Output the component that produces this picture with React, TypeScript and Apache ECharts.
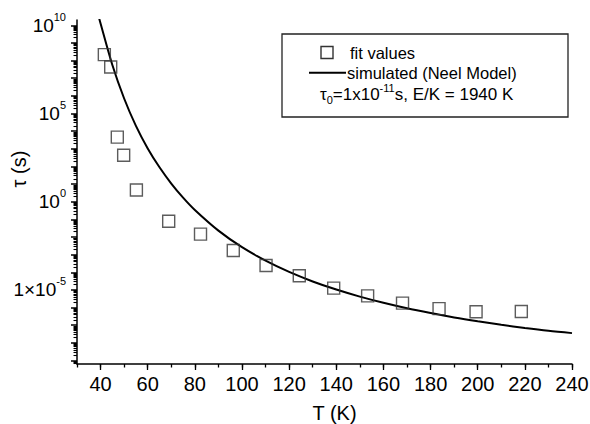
import React, { useEffect, useRef } from "react";
import * as echarts from "echarts";

// Fitted relaxation times (T in K, log10 of tau in s)
const T_FIT = [41.6, 44.3, 47.1, 49.8, 55.2, 68.9, 82.4, 96.3, 110.2, 124.3, 138.9, 153.3, 168.1, 183.6, 199.3, 218.5];
const LOG_TAU_FIT = [8.34, 7.64, 3.66, 2.63, 0.66, -1.11, -1.84, -2.77, -3.62, -4.2, -4.9, -5.34, -5.75, -6.06, -6.24, -6.22];

// Simulated (Neel model) curve
const T_SIM = [39, 40, 45, 50, 55, 60, 65, 70, 75, 80, 90, 100, 110, 120, 130, 140, 150, 160, 170, 180, 190, 200, 210, 220, 230, 240];
const LOG_TAU_SIM = [10.6, 10.1, 7.75, 5.85, 4.3, 3.02, 1.95, 1.03, 0.23, -0.47, -1.64, -2.58, -3.34, -3.98, -4.52, -4.98, -5.38, -5.73, -6.04, -6.31, -6.56, -6.78, -6.98, -7.16, -7.32, -7.45];

// Axis ticks
const X_MIN = 30;
const X_MAX = 240;
const X_MAJOR = [40, 60, 80, 100, 120, 140, 160, 180, 200, 220, 240];
const Y_MIN = -9.2;
const Y_MAX = 10.3;
const Y_DECADES = [-9, -8, -7, -6, -5, -4, -3, -2, -1, 0, 1, 2, 3, 4, 5, 6, 7, 8, 9, 10];
const Y_LABEL_VALUES = [-5, 0, 5, 10];
const Y_LABEL_BASE = ["1\u00d710", "10", "10", "10"];
const Y_LABEL_EXP = ["-5", "0", "5", "10"];

const FONT = "'Liberation Sans', Arial, Helvetica, sans-serif";

export default function App() {
  const ref = useRef<HTMLDivElement>(null);
  useEffect(() => {
    if (!ref.current) return;
    const chart = echarts.init(ref.current, undefined, { renderer: "svg" });

    const minorY: number[] = [];
    for (let n = -10; n <= 10; n++) {
      for (let k = 2; k <= 9; k++) {
        const v = n + Math.log10(k);
        if (v > Y_MIN && v < Y_MAX) minorY.push(v);
      }
    }

    const fitData = T_FIT.map((t, i) => [t, LOG_TAU_FIT[i]]);
    const simData = T_SIM.map((t, i) => [t, LOG_TAU_SIM[i]]);

    const grid = { left: 77, right: 18, top: 20, bottom: 60, containLabel: false, outerBoundsMode: "none" };

    chart.setOption({
      animation: false,
      backgroundColor: "#fff",
      grid,
      xAxis: [
        {
          type: "value",
          min: X_MIN,
          max: X_MAX,
          interval: 10,
          axisLine: { show: true, onZero: false, lineStyle: { color: "#000", width: 1.5 } },
          axisTick: { show: true, inside: false, length: 3.5, lineStyle: { color: "#000", width: 1.3 } },
          splitLine: { show: false },
          axisLabel: {
            color: "#000",
            fontSize: 20,
            fontFamily: FONT,
            margin: 10,
            formatter: (v: number) => (X_MAJOR.indexOf(v) >= 0 ? String(v) : ""),
          },
        },
        {
          type: "value",
          min: X_MIN,
          max: X_MAX,
          position: "bottom",
          axisLine: { show: false, onZero: false },
          axisTick: { show: true, inside: false, length: 6, customValues: X_MAJOR, lineStyle: { color: "#000", width: 1.3 } },
          axisLabel: { show: false },
          splitLine: { show: false },
        },
      ],
      yAxis: [
        {
          type: "value",
          min: Y_MIN,
          max: Y_MAX,
          axisLine: { show: true, onZero: false, lineStyle: { color: "#000", width: 1.5 } },
          axisTick: { show: true, inside: false, length: 6, customValues: Y_DECADES, lineStyle: { color: "#000", width: 1.5 } },
          splitLine: { show: false },
          axisLabel: {
            customValues: Y_LABEL_VALUES,
            margin: 11,
            color: "#000",
            fontFamily: FONT,
            formatter: (v: number) => {
              const i = Y_LABEL_VALUES.indexOf(Math.round(v));
              if (i < 0) return "";
              return "{b|" + Y_LABEL_BASE[i] + "}{s|" + Y_LABEL_EXP[i] + "}";
            },
            rich: {
              b: { fontSize: 19, fontFamily: FONT, color: "#000" },
              s: { fontSize: 11, fontFamily: FONT, color: "#000", padding: [0, 0, 17, 0] },
            },
          },
        },
        {
          type: "value",
          min: Y_MIN,
          max: Y_MAX,
          position: "left",
          axisLine: { show: false, onZero: false },
          axisTick: { show: true, inside: false, length: 3.5, customValues: minorY, lineStyle: { color: "#000", width: 1.1 } },
          axisLabel: { show: false },
          splitLine: { show: false },
        },
      ],
      series: [
        {
          name: "simulated (Neel Model)",
          type: "line",
          data: simData,
          showSymbol: false,
          smooth: 0.3,
          clip: true,
          lineStyle: { color: "#000", width: 2 },
          z: 2,
        },
        {
          name: "fit values",
          type: "scatter",
          data: fitData,
          symbol: "rect",
          symbolSize: 12,
          itemStyle: { color: "rgba(0,0,0,0)", borderColor: "#333", borderWidth: 1.4 },
          z: 3,
        },
      ],
      graphic: [
        {
          type: "text",
          x: 334.5,
          y: 412.5,
          style: { text: "T (K)", fontSize: 20, fontFamily: FONT, fill: "#000", align: "center", verticalAlign: "middle" },
        },
        {
          type: "text",
          x: 19,
          y: 169,
          rotation: Math.PI / 2,
          style: { text: "\u03c4 (s)", fontSize: 20, fontFamily: FONT, fill: "#000", align: "center", verticalAlign: "middle" },
        },
        {
          type: "rect",
          shape: { x: 282, y: 34, width: 286, height: 83 },
          style: { fill: "#fff", stroke: "#222", lineWidth: 1.3 },
          z: 10,
        },
        {
          type: "rect",
          shape: { x: 321, y: 46.5, width: 12, height: 12 },
          style: { fill: "none", stroke: "#333", lineWidth: 1.4 },
          z: 11,
        },
        {
          type: "line",
          shape: { x1: 309, y1: 72.7, x2: 346, y2: 72.7 },
          style: { stroke: "#000", lineWidth: 2 },
          z: 11,
        },
        {
          type: "text",
          x: 350,
          y: 52.5,
          style: { text: "fit values", fontSize: 16.5, fontFamily: FONT, fill: "#000", verticalAlign: "middle" },
          z: 11,
        },
        {
          type: "text",
          x: 347,
          y: 72.5,
          style: { text: "simulated (Neel Model)", fontSize: 16.5, fontFamily: FONT, fill: "#000", verticalAlign: "middle" },
          z: 11,
        },
        {
          type: "text",
          x: 320,
          y: 94,
          style: {
            text: "{b|\u03c4}{sub|0}{b|=1x10}{sup|-11}{b|s, E/K = 1940 K}",
            verticalAlign: "middle",
            rich: {
              b: { fontSize: 17, fontFamily: FONT, fill: "#000" },
              sub: { fontSize: 11, fontFamily: FONT, fill: "#000", padding: [12, 0, 0, 0] },
              sup: { fontSize: 11, fontFamily: FONT, fill: "#000", padding: [0, 0, 12, 0] },
            },
          },
          z: 11,
        },
      ],
    });
    return () => chart.dispose();
  }, []);
  return <div ref={ref} style={{ position: "fixed", left: 0, top: 0, width: 590, height: 424 }} />;
}
